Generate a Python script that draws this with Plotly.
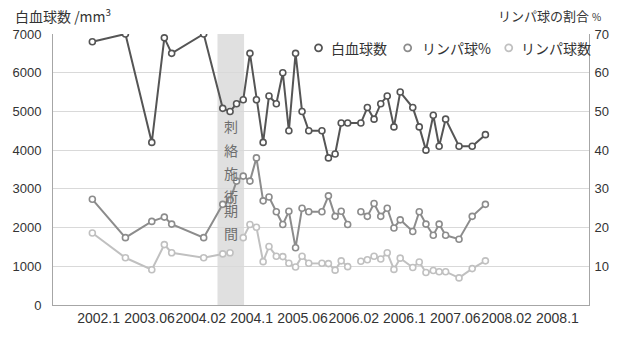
import plotly.graph_objects as go

# ---- data ----
dates = ["2002-09-01", "2003-02-06", "2003-06-12", "2003-08-11", "2003-09-15",
         "2004-02-15", "2004-05-16", "2004-06-20", "2004-07-21", "2004-08-22",
         "2004-09-23", "2004-10-24", "2004-11-25", "2004-12-23", "2005-01-27",
         "2005-02-27", "2005-03-28", "2005-04-29", "2005-05-30", "2005-07-01",
         "2005-09-02", "2005-10-03", "2005-11-04", "2005-12-03", "2006-01-03",
         "2006-02-04", "2006-03-07", "2006-04-07", "2006-05-09", "2006-06-10",
         "2006-07-11", "2006-08-12", "2006-09-11", "2006-11-10", "2006-12-11",
         "2007-01-12", "2007-02-16", "2007-03-16", "2007-04-16", "2007-06-19",
         "2007-08-21", "2007-10-23"]

wbc = [6800, 7000, 4200, 6900, 6500, 7000, 5080, 5000, 5200, 5300,
       6500, 5300, 4200, 5400, 5200, 6000, 4500, 6500, 5000, 4500,
       4500, 3800, 3900, 4700, 4700, None, 4700, 5100, 4800, 5200,
       5400, 4600, 5500, 5100, 4600, 4000, 4900, 4100, 4800, 4100,
       4100, 4400]

lymph_pct = [27.3, 17.4, 21.6, 22.7, 20.9, 17.4, 26.0, 27.1, 32.0, 33.3,
             32.0, 38.0, 26.9, 27.9, 24.1, 20.8, 24.2, 14.8, 25.0, 24.1,
             24.1, 28.2, 22.9, 24.2, 20.8, None, 24.1, 22.9, 26.2, 22.9,
             25.0, 19.9, 22.0, 19.0, 24.1, 20.9, 18.0, 20.9, 18.0, 17.0,
             22.9, 26.0]

lymph_cnt = [1860, 1220, 910, 1560, 1350, 1220, 1320, 1350, None, 1740,
             2080, 2010, 1120, 1510, 1260, 1250, 1080, 980, 1260, 1080,
             1080, 1070, 900, 1140, 990, None, 1130, 1170, 1260, 1190,
             1350, 920, 1210, 970, 1110, 840, 890, 860, 860, 700,
             940, 1140]

tick_dates = ["2002-10-01", "2003-06-01", "2004-02-01", "2004-10-01", "2005-06-01",
              "2006-02-01", "2006-10-01", "2007-06-01", "2008-02-01", "2008-10-01"]
tick_labels = ["2002.1", "2003.06", "2004.02", "2004.1", "2005.06",
               "2006.02", "2006.1", "2007.06", "2008.02", "2008.1"]

band_start, band_end = "2004-04-21", "2004-08-26"
band_label = "刺絡施術期間"

series_names = ["白血球数", "リンパ球%", "リンパ球数"]
series_colors = ["#555555", "#8c8c8c", "#c0c0c0"]

FONT = "Liberation Sans, Arial, Noto Sans CJK JP, sans-serif"
JFONT = "Noto Sans CJK JP, sans-serif"

fig = go.Figure()

def add_series(y, name, color, yaxis, connect):
    fig.add_trace(go.Scatter(
        x=dates, y=y, name=name, mode="lines+markers", yaxis=yaxis,
        connectgaps=connect, showlegend=False, hoverinfo="skip",
        line=dict(color=color, width=2),
        marker=dict(symbol="circle", size=6, color="white",
                    line=dict(color=color, width=1.6)),
    ))

add_series(lymph_cnt, series_names[2], series_colors[2], "y", False)
add_series(lymph_pct, series_names[1], series_colors[1], "y2", False)
add_series(wbc, series_names[0], series_colors[0], "y", True)

# shaded treatment period
fig.add_shape(type="rect", xref="x", yref="paper", x0=band_start, x1=band_end,
              y0=0, y1=1, fillcolor="#e0e0e0", line=dict(width=0), layer="below")

# plot-area geometry in window pixels (for paper-coordinate placement)
L, R, T, B = 52, 593, 34, 309
W, H = R - L, B - T
px = lambda x: (x - L) / W
py = lambda y: (B - y) / H

band_mid = "2004-06-23"
for i, ch in enumerate(band_label):
    fig.add_annotation(x=band_mid, xref="x", y=py(127 + i * 23.7), yref="paper",
                       text=ch, showarrow=False, height=17, width=16, borderpad=0,
                       font=dict(family=JFONT, size=14, color="#6e6e6e"))

# legend drawn manually (marker only, like the reference)
leg_y = 48
leg_marker_x = [320, 410, 512]
leg_text_x = [331, 422, 522]
for name, color, mx, tx in zip(series_names, series_colors, leg_marker_x, leg_text_x):
    fig.add_shape(type="circle", xref="paper", yref="paper",
                  xsizemode="pixel", ysizemode="pixel",
                  xanchor=px(mx), yanchor=py(leg_y),
                  x0=-3.5, x1=3.5, y0=-3.5, y1=3.5,
                  fillcolor="white", line=dict(color=color, width=1.8))
    fig.add_annotation(x=px(tx), y=py(leg_y), xref="paper", yref="paper",
                       xanchor="left", yanchor="middle", showarrow=False,
                       text=name, font=dict(family=JFONT, size=14, color="#333333"))

# axis titles
fig.add_annotation(x=px(12), y=py(15), xref="paper", yref="paper",
                   xanchor="left", yanchor="middle", showarrow=False,
                   text="白血球数 /mm<sup>3</sup>",
                   font=dict(family=JFONT, size=14, color="#333333"))
fig.add_annotation(x=px(607), y=py(15), xref="paper", yref="paper",
                   xanchor="right", yanchor="middle", showarrow=False,
                   text="リンパ球の割合 <span style='font-size:10px'>%</span>",
                   font=dict(family=JFONT, size=13, color="#333333"))

fig.update_layout(
    width=621, height=338,
    margin=dict(l=L, r=621 - R, t=T, b=338 - B),
    paper_bgcolor="white", plot_bgcolor="white",
    font=dict(family=FONT, size=13, color="#333333"),
    showlegend=False, hovermode=False,
    xaxis=dict(type="date", range=["2002-02-25", "2009-03-01"],
               tickmode="array", tickvals=tick_dates, ticktext=tick_labels,
               tickangle=0, showgrid=False, zeroline=False,
               showline=True, linecolor="#a6a6a6", linewidth=1, ticks="",
               tickfont=dict(family=FONT, size=14, color="#333333")),
    yaxis=dict(range=[0, 7000], tickmode="array",
               tickvals=[0, 1000, 2000, 3000, 4000, 5000, 6000, 7000],
               showgrid=True, gridcolor="#d9d9d9", gridwidth=1, zeroline=False,
               showline=True, linecolor="#a6a6a6", linewidth=1, ticks="",
               ticklabelstandoff=8,
               tickfont=dict(family=FONT, size=13, color="#333333")),
    yaxis2=dict(range=[0, 70], overlaying="y", side="right", tickmode="array",
                tickvals=[10, 20, 30, 40, 50, 60, 70],
                showgrid=False, zeroline=False,
                showline=True, linecolor="#a6a6a6", linewidth=1, ticks="",
                ticklabelstandoff=2,
                tickfont=dict(family=FONT, size=13, color="#333333")),
)

# remove the browser's default 8px body margin so the figure fills the window
fig.write_html("out.html", config={"displayModeBar": False},
               post_script="document.body.style.margin='0px';")
